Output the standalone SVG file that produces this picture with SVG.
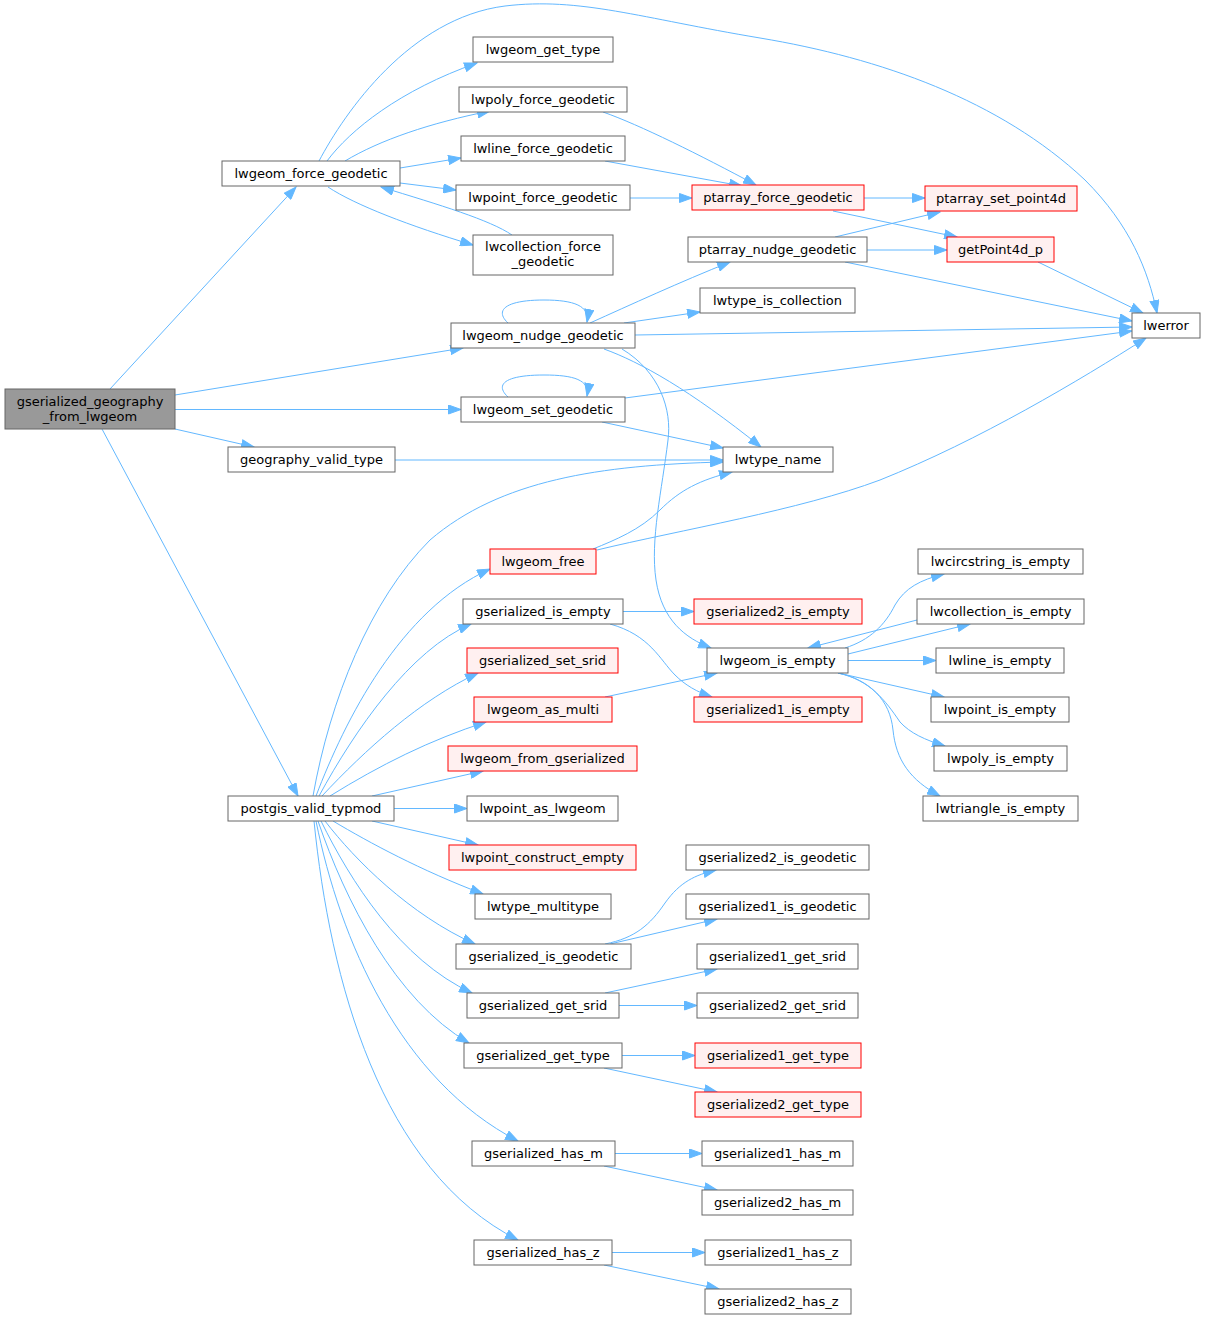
<svg xmlns="http://www.w3.org/2000/svg" width="1205" height="1320" viewBox="0 0 1205 1320">
<style>
.n rect{fill:#ffffff;stroke:#666666;stroke-width:1}
.n.r rect{fill:#fff0f0;stroke:#ff0000}
.n.g rect{fill:#999999;stroke:#666666}
.n text{font-family:"DejaVu Sans",sans-serif;font-size:13px;fill:#000000;text-anchor:middle}
.e path{fill:none;stroke:#63b8ff;stroke-width:1;marker-end:url(#ah)}
</style>
<defs>
<marker id="ah" markerUnits="userSpaceOnUse" markerWidth="14" markerHeight="10" viewBox="0 0 14 10" refX="13" refY="5" orient="auto">
<path d="M0.5,0.5 L13,5 L0.5,9.5 Z" fill="#63b8ff" stroke="#63b8ff" stroke-width="1"/>
</marker>
</defs>
<rect x="0" y="0" width="1205" height="1320" fill="#ffffff"/>
<g id="edges" class="e">
<path d="M110,389 L296,187"/>
<path d="M175,395 L463,348"/>
<path d="M175,409.5 L461,409.5"/>
<path d="M175,429 L254,447"/>
<path d="M102,429 L298,796"/>
<path d="M319,161 C345,112 410,18 505,6 C580,-3 640,18 760,38 C880,58 1000,100 1085,180 C1130,225 1148,270 1157,313"/>
<path d="M327,161 C350,130 400,90 477,63"/>
<path d="M345,161 C380,140 430,123 490,111"/>
<path d="M400,168 L461,158"/>
<path d="M400,183 L456,190"/>
<path d="M328,187 C355,205 410,226 473,245"/>
<path d="M512,235 C490,220 440,205 381,187"/>
<path d="M603,112 C640,125 700,155 756,185"/>
<path d="M605,161 L742,186"/>
<path d="M630,198 L692,198"/>
<path d="M864,198 L925,198"/>
<path d="M833,211 L957,237"/>
<path d="M835,237 L940,212"/>
<path d="M867,250 L947,250"/>
<path d="M845,262 L1132,321"/>
<path d="M1038,262 L1143,313"/>
<path d="M635,335 L1132,327"/>
<path d="M625,398 L1132,331"/>
<path d="M597,550 C680,530 800,510 880,480 C980,440 1080,380 1146,338"/>
<path d="M508,323 C494,310 506,300 544,300 C574,300 590,306 587,322"/>
<path d="M590,323 C630,305 680,282 730,262"/>
<path d="M624,323 L700,312"/>
<path d="M604,349 C640,362 690,390 761,447"/>
<path d="M622,349 C660,372 672,410 668,440 C662,490 650,540 656,580 C662,620 685,638 711,648"/>
<path d="M508,397 C494,384 506,375 544,375 C574,375 590,380 587,396"/>
<path d="M602,422 L723,448"/>
<path d="M395,460 L723,460"/>
<path d="M313,796 C330,700 370,600 430,540 C500,480 600,465 723,462"/>
<path d="M316,796 C345,720 400,610 490,569"/>
<path d="M319,796 C355,730 410,650 471,624"/>
<path d="M322,796 C365,750 420,700 478,673"/>
<path d="M330,796 C380,765 430,740 486,722"/>
<path d="M372,796 L483,771"/>
<path d="M394,808.5 L467,808.5"/>
<path d="M372,821 L478,845"/>
<path d="M333,821 C370,843 420,870 483,894"/>
<path d="M325,821 C355,860 410,915 475,944"/>
<path d="M321,821 C350,880 400,960 472,993"/>
<path d="M318,821 C345,900 395,1000 469,1043"/>
<path d="M316,821 C340,940 400,1080 518,1141"/>
<path d="M314,821 C330,980 380,1170 518,1240"/>
<path d="M623,611.5 L694,611.5"/>
<path d="M610,624 C650,635 660,660 675,675 C685,685 697,692 712,697"/>
<path d="M605,697 L717,673"/>
<path d="M593,549 C615,540 640,530 660,510 C680,490 700,480 732,472"/>
<path d="M845,648 C870,640 885,625 895,605 C905,588 920,580 944,574"/>
<path d="M917,620 L808,648"/>
<path d="M848,654 L970,624"/>
<path d="M848,660.5 L936,660.5"/>
<path d="M838,673 L944,697"/>
<path d="M838,673 C870,680 885,700 900,722 C910,733 925,740 945,746"/>
<path d="M838,673 C870,680 890,700 893,730 C896,760 910,780 940,796"/>
<path d="M605,944 C635,938 650,925 665,903 C680,882 695,875 716,870"/>
<path d="M610,944 L717,919"/>
<path d="M605,993 L717,969"/>
<path d="M619,1005.5 L697,1005.5"/>
<path d="M622,1055.5 L695,1055.5"/>
<path d="M604,1068 L717,1092"/>
<path d="M615,1153.5 L702,1153.5"/>
<path d="M604,1166 L717,1190"/>
<path d="M612,1252.5 L705,1252.5"/>
<path d="M604,1265 L719,1289"/>
</g>
<g id="n0" class="n g"><rect x="5" y="389" width="170" height="40"/><text x="90" y="406">gserialized_geography</text><text x="90" y="421">_from_lwgeom</text></g>
<g id="n1" class="n"><rect x="222" y="161" width="178" height="25"/><text x="311" y="178">lwgeom_force_geodetic</text></g>
<g id="n2" class="n"><rect x="473" y="37" width="140" height="25"/><text x="543" y="54">lwgeom_get_type</text></g>
<g id="n3" class="n"><rect x="459" y="87" width="168" height="25"/><text x="543" y="104">lwpoly_force_geodetic</text></g>
<g id="n4" class="n"><rect x="461" y="136" width="164" height="25"/><text x="543" y="153">lwline_force_geodetic</text></g>
<g id="n5" class="n"><rect x="456" y="185" width="174" height="25"/><text x="543" y="202">lwpoint_force_geodetic</text></g>
<g id="n6" class="n"><rect x="473" y="235" width="140" height="40"/><text x="543" y="251">lwcollection_force</text><text x="543" y="266">_geodetic</text></g>
<g id="n7" class="n r"><rect x="692" y="185" width="172" height="25"/><text x="778" y="202">ptarray_force_geodetic</text></g>
<g id="n8" class="n r"><rect x="925" y="186" width="152" height="25"/><text x="1001" y="203">ptarray_set_point4d</text></g>
<g id="n9" class="n r"><rect x="947" y="237" width="107" height="25"/><text x="1000.5" y="254">getPoint4d_p</text></g>
<g id="n10" class="n"><rect x="688" y="237" width="179" height="25"/><text x="777.5" y="254">ptarray_nudge_geodetic</text></g>
<g id="n11" class="n"><rect x="700" y="288" width="155" height="25"/><text x="777.5" y="305">lwtype_is_collection</text></g>
<g id="n12" class="n"><rect x="1132" y="313" width="68" height="25"/><text x="1166" y="330">lwerror</text></g>
<g id="n13" class="n"><rect x="451" y="323" width="184" height="25"/><text x="543" y="340">lwgeom_nudge_geodetic</text></g>
<g id="n14" class="n"><rect x="461" y="397" width="164" height="25"/><text x="543" y="414">lwgeom_set_geodetic</text></g>
<g id="n15" class="n"><rect x="228" y="447" width="167" height="25"/><text x="311.5" y="464">geography_valid_type</text></g>
<g id="n16" class="n"><rect x="723" y="447" width="110" height="25"/><text x="778" y="464">lwtype_name</text></g>
<g id="n17" class="n r"><rect x="490" y="549" width="106" height="25"/><text x="543" y="566">lwgeom_free</text></g>
<g id="n18" class="n"><rect x="463" y="599" width="160" height="25"/><text x="543" y="616">gserialized_is_empty</text></g>
<g id="n19" class="n r"><rect x="694" y="599" width="168" height="25"/><text x="778" y="616">gserialized2_is_empty</text></g>
<g id="n20" class="n r"><rect x="467" y="648" width="151" height="25"/><text x="542.5" y="665">gserialized_set_srid</text></g>
<g id="n21" class="n"><rect x="707" y="648" width="141" height="25"/><text x="777.5" y="665">lwgeom_is_empty</text></g>
<g id="n22" class="n r"><rect x="474" y="697" width="138" height="25"/><text x="543" y="714">lwgeom_as_multi</text></g>
<g id="n23" class="n r"><rect x="694" y="697" width="168" height="25"/><text x="778" y="714">gserialized1_is_empty</text></g>
<g id="n24" class="n"><rect x="918" y="549" width="165" height="25"/><text x="1000.5" y="566">lwcircstring_is_empty</text></g>
<g id="n25" class="n"><rect x="917" y="599" width="167" height="25"/><text x="1000.5" y="616">lwcollection_is_empty</text></g>
<g id="n26" class="n"><rect x="936" y="648" width="128" height="25"/><text x="1000" y="665">lwline_is_empty</text></g>
<g id="n27" class="n"><rect x="931" y="697" width="138" height="25"/><text x="1000" y="714">lwpoint_is_empty</text></g>
<g id="n28" class="n"><rect x="934" y="746" width="133" height="25"/><text x="1000.5" y="763">lwpoly_is_empty</text></g>
<g id="n29" class="n"><rect x="923" y="796" width="155" height="25"/><text x="1000.5" y="813">lwtriangle_is_empty</text></g>
<g id="n30" class="n r"><rect x="448" y="746" width="189" height="25"/><text x="542.5" y="763">lwgeom_from_gserialized</text></g>
<g id="n31" class="n"><rect x="228" y="796" width="166" height="25"/><text x="311" y="813">postgis_valid_typmod</text></g>
<g id="n32" class="n"><rect x="467" y="796" width="151" height="25"/><text x="542.5" y="813">lwpoint_as_lwgeom</text></g>
<g id="n33" class="n r"><rect x="449" y="845" width="187" height="25"/><text x="542.5" y="862">lwpoint_construct_empty</text></g>
<g id="n34" class="n"><rect x="475" y="894" width="136" height="25"/><text x="543" y="911">lwtype_multitype</text></g>
<g id="n35" class="n"><rect x="456" y="944" width="175" height="25"/><text x="543.5" y="961">gserialized_is_geodetic</text></g>
<g id="n36" class="n"><rect x="686" y="845" width="183" height="25"/><text x="777.5" y="862">gserialized2_is_geodetic</text></g>
<g id="n37" class="n"><rect x="686" y="894" width="183" height="25"/><text x="777.5" y="911">gserialized1_is_geodetic</text></g>
<g id="n38" class="n"><rect x="467" y="993" width="152" height="25"/><text x="543" y="1010">gserialized_get_srid</text></g>
<g id="n39" class="n"><rect x="697" y="944" width="161" height="25"/><text x="777.5" y="961">gserialized1_get_srid</text></g>
<g id="n40" class="n"><rect x="697" y="993" width="161" height="25"/><text x="777.5" y="1010">gserialized2_get_srid</text></g>
<g id="n41" class="n"><rect x="464" y="1043" width="158" height="25"/><text x="543" y="1060">gserialized_get_type</text></g>
<g id="n42" class="n r"><rect x="695" y="1043" width="166" height="25"/><text x="778" y="1060">gserialized1_get_type</text></g>
<g id="n43" class="n r"><rect x="695" y="1092" width="166" height="25"/><text x="778" y="1109">gserialized2_get_type</text></g>
<g id="n44" class="n"><rect x="472" y="1141" width="143" height="25"/><text x="543.5" y="1158">gserialized_has_m</text></g>
<g id="n45" class="n"><rect x="702" y="1141" width="151" height="25"/><text x="777.5" y="1158">gserialized1_has_m</text></g>
<g id="n46" class="n"><rect x="702" y="1190" width="151" height="25"/><text x="777.5" y="1207">gserialized2_has_m</text></g>
<g id="n47" class="n"><rect x="474" y="1240" width="138" height="25"/><text x="543" y="1257">gserialized_has_z</text></g>
<g id="n48" class="n"><rect x="705" y="1240" width="146" height="25"/><text x="778" y="1257">gserialized1_has_z</text></g>
<g id="n49" class="n"><rect x="705" y="1289" width="146" height="25"/><text x="778" y="1306">gserialized2_has_z</text></g>
</svg>
